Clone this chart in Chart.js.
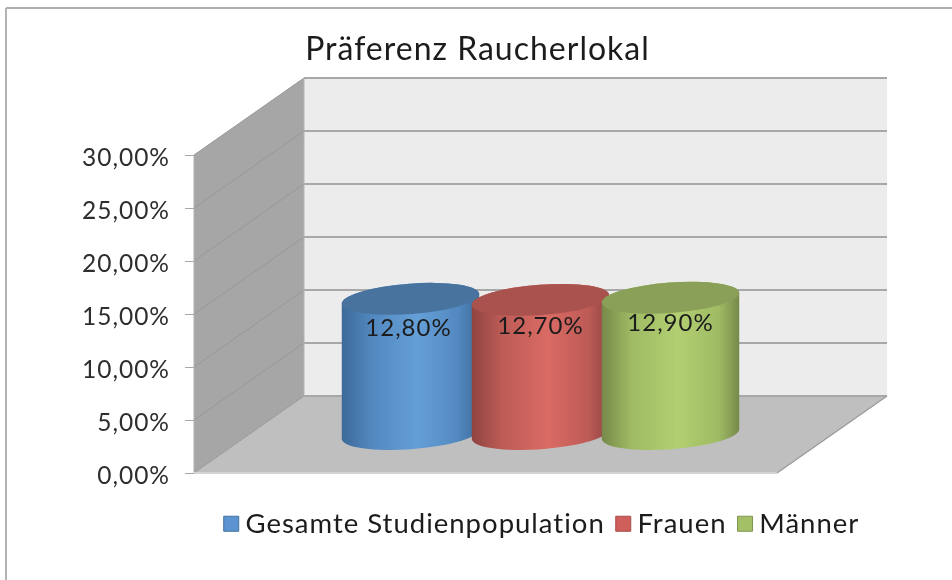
<!DOCTYPE html>
<html>
<head>
<meta charset="utf-8">
<script src="https://cdn.jsdelivr.net/npm/chart.js@4/dist/chart.umd.min.js"></script>
<style>
html, body { margin: 0; background: #fff; }
canvas { display: block; }
</style>
</head>
<body>
<canvas id="myChart" width="952" height="580"></canvas>
<script>
const categories = ['Präferenz Raucherlokal'];
const seriesNames = ['Gesamte Studienpopulation', 'Frauen', 'Männer'];
const seriesValues = [12.8, 12.7, 12.9];
const tickValues = [0, 5, 10, 15, 20, 25, 30];
const legendColors = ['#5b94d0', '#cf5f5a', '#a3c066'];
const legendBorders = ['#41719f', '#a54e4a', '#7f9650'];

// dark edge, mid, light centre, top cap of each cylinder
const shades = [
    ['#3d6a98', '#5288bf', '#659fd8', '#48739f'],
    ['#8f4441', '#bd5b56', '#da6a64', '#a9524e'],
    ['#76894a', '#9fbb64', '#b2cf71', '#8a9f58']
];
const labelDy = [29, 26, 26];

const FONT = 'Lato';
const depthX = 110;
const depthY = -77;

function fmt(v) {
    return v.toFixed(2).replace('.', ',') + '%';
}

function poly(ctx, pts, fill) {
    ctx.beginPath();
    pts.forEach((p, i) => i ? ctx.lineTo(p[0], p[1]) : ctx.moveTo(p[0], p[1]));
    ctx.closePath();
    ctx.fillStyle = fill;
    ctx.fill();
}

function line(ctx, x1, y1, x2, y2, color, width) {
    ctx.beginPath();
    ctx.moveTo(x1, y1);
    ctx.lineTo(x2, y2);
    ctx.strokeStyle = color;
    ctx.lineWidth = width;
    ctx.stroke();
}

function drawCylinder(chart, i) {
    const ctx = chart.ctx;
    const el = chart.getDatasetMeta(i).data[0];
    const c = shades[i];
    const cx = el.x + depthX / 2;
    const top = el.y + depthY / 2;
    const base = el.base + depthY / 2;
    const rx = el.width / 2;
    const ry = 15.2;
    const rot = -0.073;

    const g = ctx.createLinearGradient(cx - rx, 0, cx + rx, 0);
    g.addColorStop(0, c[0]);
    g.addColorStop(0.22, c[1]);
    g.addColorStop(0.55, c[2]);
    g.addColorStop(0.85, c[1]);
    g.addColorStop(1, c[0]);
    ctx.beginPath();
    ctx.ellipse(cx, base, rx, ry, rot, 0, Math.PI);
    ctx.ellipse(cx, top, rx, ry, rot, Math.PI, Math.PI * 2);
    ctx.closePath();
    ctx.fillStyle = g;
    ctx.fill();

    ctx.beginPath();
    ctx.ellipse(cx, top, rx, ry, rot, 0, Math.PI * 2);
    ctx.fillStyle = c[3];
    ctx.fill();

    ctx.fillStyle = '#1c1c1c';
    ctx.font = '24px ' + FONT;
    ctx.textAlign = 'center';
    ctx.textBaseline = 'middle';
    ctx.fillText(fmt(seriesValues[i]), cx - (i === 0 ? 2 : 0), top + labelDy[i]);
}

const scene = {
    id: 'scene',
    afterInit(chart) {
        // the original font runs wider than Lato
        chart.ctx.letterSpacing = '1px';
    },
    afterLayout(chart) {
        // title and legend are not centred on the plot in the original
        const lg = chart.legend;
        const dx = 545 - (lg.left + lg.right) / 2;
        lg.left += dx;
        lg.right += dx;
        lg.top += 19;
        lg.bottom += 19;
        const tb = chart.titleBlock;
        const tx = 477.5 - (tb.left + tb.right) / 2;
        tb.left += tx;
        tb.right += tx;
    },
    beforeDraw(chart) {
        const ctx = chart.ctx;
        line(ctx, 6, 8, 952, 8, '#b0b0b0', 2);
        line(ctx, 6, 8, 6, 580, '#b4b4b4', 2);
    },
    beforeDatasetsDraw(chart) {
        const ctx = chart.ctx;
        const a = chart.chartArea;
        const y = chart.scales.y;
        const t = y.getPixelForValue(30);
        const b = y.getPixelForValue(0);
        const bx = a.left + depthX;
        poly(ctx, [[bx, t + depthY], [bx + a.width, t + depthY], [bx + a.width, b + depthY], [bx, b + depthY]], '#ececec');
        poly(ctx, [[a.left, t], [bx, t + depthY], [bx, b + depthY], [a.left, b]], '#a6a6a6');
        poly(ctx, [[a.left, b], [bx, b + depthY], [bx + a.width, b + depthY], [a.right, b]], '#bfbfbf');
        tickValues.forEach(v => {
            const p = y.getPixelForValue(v);
            line(ctx, a.left, p, bx, p + depthY, '#989898', 1);
            line(ctx, bx, p + depthY, bx + a.width, p + depthY, '#a8a8a8', 2);
        });
        line(ctx, a.left, t, a.left, b, '#b0b0b0', 1);
        line(ctx, bx, t + depthY, bx, b + depthY, '#b4b4b4', 1);
        line(ctx, a.left, b, a.right, b, '#d4d4d4', 2);
        line(ctx, a.right, b, bx + a.width, b + depthY, '#9c9c9c', 1.5);
        // first series at the back, last one overlaps it
        seriesNames.forEach((n, i) => drawCylinder(chart, i));
    },
    beforeDatasetDraw() {
        return false;
    }
};

new Chart(document.getElementById('myChart').getContext('2d'), {
    type: 'bar',
    data: {
        labels: categories,
        datasets: seriesNames.map((name, i) => ({
            label: name,
            data: [seriesValues[i]],
            backgroundColor: legendColors[i],
            borderColor: legendBorders[i],
            borderWidth: 1,
            categoryPercentage: 0.669,
            barPercentage: 1.06
        }))
    },
    options: {
        responsive: false,
        animation: false,
        layout: { padding: { right: 175, bottom: 51.5 } },
        scales: {
            x: { display: false },
            y: {
                min: 0,
                max: 30,
                afterFit(scale) { scale.width = 194; },
                afterBuildTicks(scale) { scale.ticks = tickValues.map(v => ({ value: v })); },
                border: { display: false },
                grid: { drawOnChartArea: false, color: '#a8a8a8', tickLength: 9 },
                ticks: {
                    padding: 15,
                    labelOffset: 3,
                    color: '#2e2e2e',
                    font: { family: FONT, size: 24.5 },
                    callback: v => fmt(v)
                }
            }
        },
        plugins: {
            title: {
                display: true,
                text: categories[0],
                color: '#1c1c1c',
                font: { family: FONT, size: 32, weight: 'normal' },
                padding: { top: 30, bottom: 86.6 }
            },
            legend: {
                position: 'bottom',
                labels: {
                    usePointStyle: true,
                    pointStyle: 'rect',
                    boxWidth: 1,
                    boxHeight: 15,
                    padding: 18,
                    color: '#1c1c1c',
                    font: { family: FONT, size: 27.5 }
                }
            },
            tooltip: { enabled: false }
        }
    },
    plugins: [scene]
});
</script>
</body>
</html>
